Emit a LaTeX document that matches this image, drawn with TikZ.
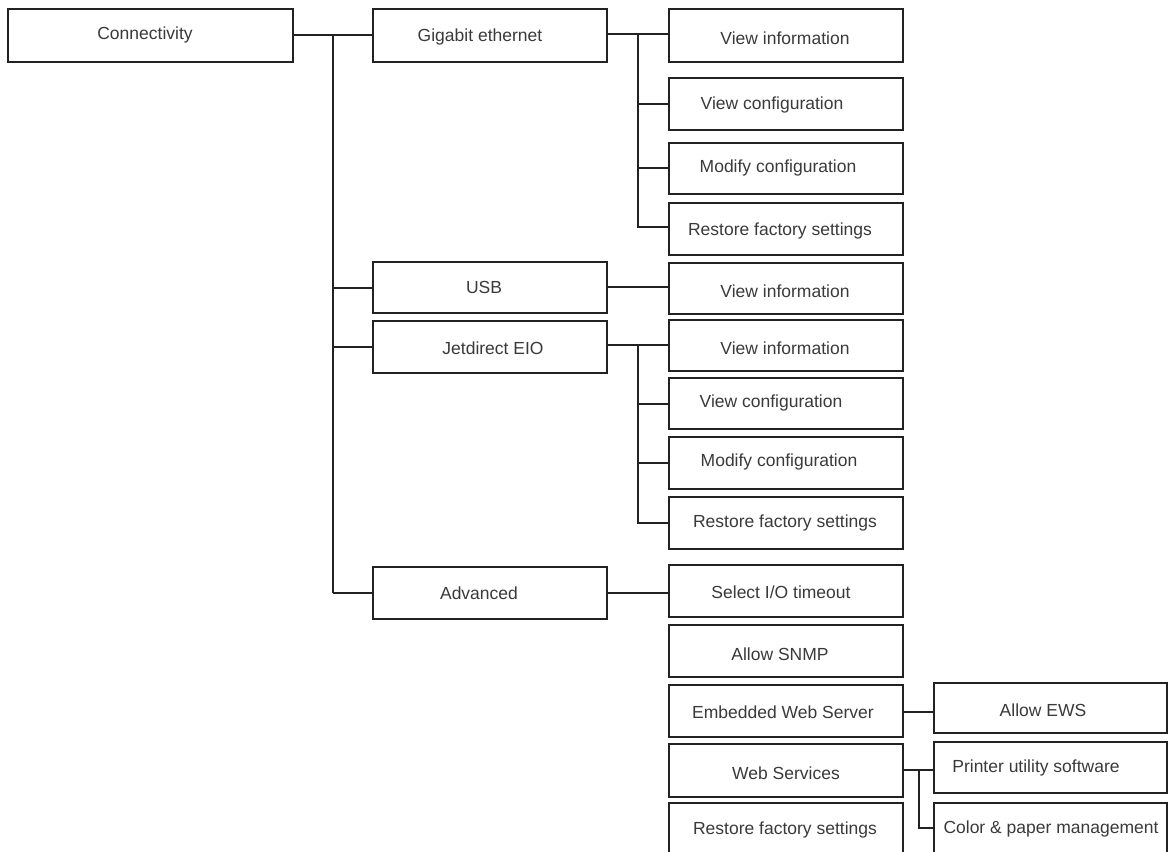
\documentclass[tikz,border=0pt]{standalone}
\usepackage{fontspec}
\setmainfont{Liberation Sans}
\usetikzlibrary{fit}
\definecolor{edge}{HTML}{222222}
\definecolor{ink}{HTML}{3A3A3A}
\tikzset{
  box/.style={draw=edge, line width=2.2pt, rectangle, inner sep=0pt, fill=white},
  txt/.style={text=ink, font=\fontsize{17.5}{20}\selectfont, inner sep=0pt, anchor=center},
  link/.style={draw=edge, line width=2pt},
}
\newcommand{\mybox}[8]{%
  \node[box, fit={(#2,#3)(#4,#5)}] (#1) {};
  \node[txt] (#1-t) at (#6,#7) {#8};
}
\begin{document}
\begin{tikzpicture}[x=1pt,y=-1pt]
\useasboundingbox (0,0) rectangle (1171,852);
\clip (0,0) rectangle (1171,852);
\fill[white] (0,0) rectangle (1171,852);
% coordinates for trunks
\coordinate (t1) at (333,35);
\coordinate (t1e) at (333,593);
% connectors (drawn first)
\mybox{conn}{8}{9}{293}{62}{145}{35}{Connectivity}
\mybox{gig}{373}{9}{607}{62}{480}{37}{Gigabit ethernet}
\mybox{vi1}{669}{9}{903}{62}{785}{38}{View information}
\mybox{vc1}{669}{78}{903}{130}{772}{105}{View configuration}
\mybox{mc1}{669}{143}{903}{194}{778}{168}{Modify configuration}
\mybox{rf1}{669}{203}{903}{255}{780}{231}{Restore factory settings}
\mybox{usb}{373}{262}{607}{313}{484}{287}{USB}
\mybox{vi2}{669}{263}{903}{314}{785}{291}{View information}
\mybox{jet}{373}{321}{607}{373}{493}{348}{Jetdirect EIO}
\mybox{vi3}{669}{320}{903}{371}{785}{348}{View information}
\mybox{vc3}{669}{378}{903}{429}{771}{403}{View configuration}
\mybox{mc3}{669}{437}{903}{489}{779}{462}{Modify configuration}
\mybox{rf3}{669}{497}{903}{549}{785}{523}{Restore factory settings}
\mybox{adv}{373}{567}{607}{619}{479}{593}{Advanced}
\mybox{sio}{669}{565}{903}{617}{781}{592}{Select I/O timeout}
\mybox{snmp}{669}{625}{903}{677}{780}{654}{Allow SNMP}
\mybox{ews}{669}{685}{903}{737}{783}{712}{Embedded Web Server}
\mybox{wsv}{669}{744}{903}{797}{786}{773}{Web Services}
\mybox{rf4}{669}{803}{903}{880}{785}{830}{Restore factory settings}
\mybox{aews}{934}{683}{1167}{733}{1043}{710}{Allow EWS}
\mybox{pus}{934}{742}{1167}{793}{1036}{768}{Printer utility software}
\mybox{cpm}{934}{803}{1167}{880}{1051}{829}{Color \& paper management}
% level 1
\draw[link] (conn.east |- t1) -- (gig.west |- t1);
\draw[link] (t1) -- (t1e);
\draw[link] (t1 |- usb.west) -- (usb.west);
\draw[link] (t1 |- jet.west) -- (jet.west);
\draw[link] (t1e) -- (t1e -| adv.west);
% gigabit
\coordinate (g1) at (638,34);
\draw[link] (gig.east |- g1) -- (vi1.west |- g1);
\draw[link] (g1) |- (rf1.west |- 0,227);
\draw[link] (g1 |- vc1.west) -- (vc1.west);
\draw[link] (g1 |- 0,168) -- (mc1.west |- 0,168);
% usb
\draw[link] (usb.east |- 0,287) -- (vi2.west |- 0,287);
% jetdirect
\coordinate (j1) at (638,345);
\draw[link] (jet.east |- j1) -- (vi3.west |- j1);
\draw[link] (j1) |- (rf3.west |- 0,523);
\draw[link] (j1 |- vc3.west) -- (vc3.west);
\draw[link] (j1 |- 0,463) -- (mc3.west |- 0,463);
% advanced
\draw[link] (adv.east |- 0,593) -- (sio.west |- 0,593);
% ews
\draw[link] (ews.east |- 0,712) -- (aews.west |- 0,712);
% web services
\coordinate (w1) at (919,770);
\draw[link] (wsv.east |- w1) -- (pus.west |- w1);
\draw[link] (w1) |- (cpm.west |- 0,828);
\end{tikzpicture}
\end{document}
